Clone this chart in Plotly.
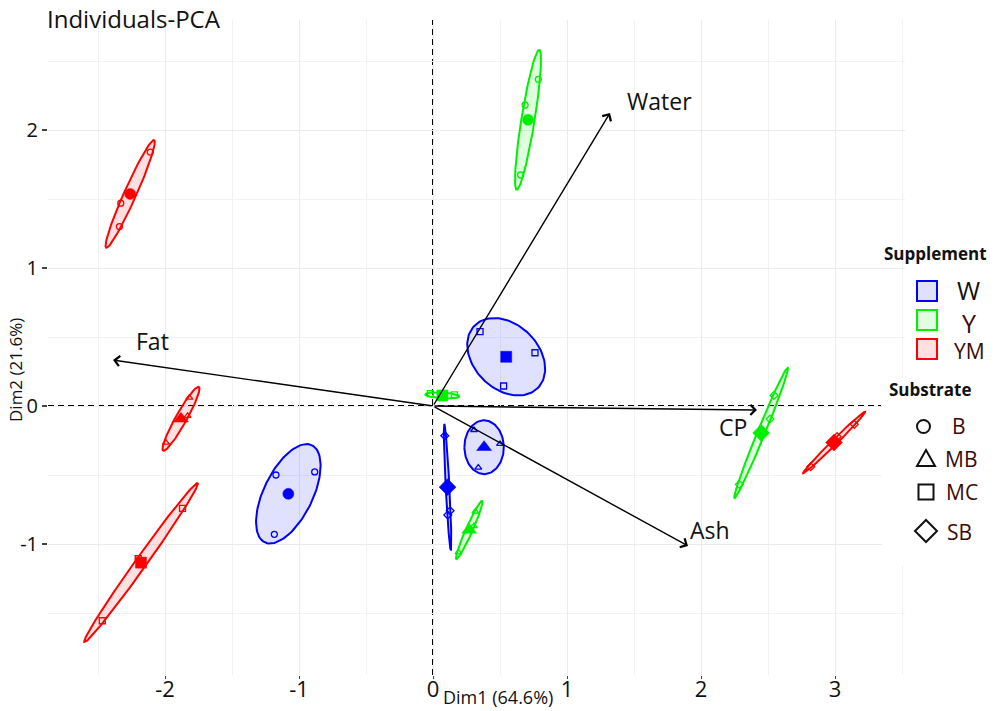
import numpy as np
import plotly.graph_objects as go

# ---------------- data ----------------
supplements = ["W", "Y", "YM"]
substrates = ["B", "MB", "MC", "SB"]

# individual scores (Dim1, Dim2), three replicates per Supplement x Substrate group
W_B_x = [-1.172, -0.883, -1.184]
W_B_y = [-0.500, -0.478, -0.930]
W_MB_x = [0.306, 0.500, 0.338]
W_MB_y = [-0.174, -0.275, -0.447]
W_MC_x = [0.351, 0.761, 0.527]
W_MC_y = [0.539, 0.386, 0.145]
W_SB_x = [0.088, 0.128, 0.110]
W_SB_y = [-0.215, -0.759, -0.790]

Y_B_x = [0.786, 0.687, 0.654]
Y_B_y = [2.367, 2.181, 1.674]
Y_MB_x = [0.316, 0.305, 0.190]
Y_MB_y = [-0.765, -0.870, -1.060]
Y_MC_x = [-0.020, 0.070, 0.160]
Y_MC_y = [0.090, 0.060, 0.080]
Y_SB_x = [2.545, 2.515, 2.286]
Y_SB_y = [0.077, -0.094, -0.568]

YM_B_x = [-2.110, -2.330, -2.340]
YM_B_y = [1.840, 1.470, 1.300]
YM_MB_x = [-1.818, -1.831, -1.993]
YM_MB_y = [0.060, -0.072, -0.266]
YM_MC_x = [-1.869, -2.200, -2.468]
YM_MC_y = [-0.742, -1.107, -1.556]
YM_SB_x = [3.144, 3.016, 2.819]
YM_SB_y = [-0.133, -0.222, -0.440]

# variable arrows (biplot)
var_names = ["Water", "Fat", "CP", "Ash"]
var_dim1 = [1.321, -2.388, 2.418, 1.903]
var_dim2 = [2.123, 0.333, -0.029, -1.014]

x_ticks = [-2, -1, 0, 1, 2, 3]
x_tick_text = ["-2", "-1", "0", "1", "2", "3"]
y_ticks = [-1, 0, 1, 2]
y_tick_text = ["-1", "0", "1", "2"]

groups = [
    ("W", "B", W_B_x, W_B_y), ("W", "MB", W_MB_x, W_MB_y),
    ("W", "MC", W_MC_x, W_MC_y), ("W", "SB", W_SB_x, W_SB_y),
    ("Y", "B", Y_B_x, Y_B_y), ("Y", "MB", Y_MB_x, Y_MB_y),
    ("Y", "MC", Y_MC_x, Y_MC_y), ("Y", "SB", Y_SB_x, Y_SB_y),
    ("YM", "B", YM_B_x, YM_B_y), ("YM", "MB", YM_MB_x, YM_MB_y),
    ("YM", "MC", YM_MC_x, YM_MC_y), ("YM", "SB", YM_SB_x, YM_SB_y),
]

# ---------------- style ----------------
FONT = "Open Sans"
W_PX, H_PX = 997, 711
L, R, T, B = 48, 92, 20, 36
line_col = {"W": "#0000FF", "Y": "#00F000", "YM": "#FF0000"}
fill_col = {"W": "rgba(0,0,255,0.12)", "Y": "rgba(0,255,0,0.12)", "YM": "rgba(255,0,0,0.12)"}
sym_open = {"B": "circle-open", "MB": "triangle-up-open", "MC": "square-open", "SB": "diamond-open"}
sym_fill = {"B": "circle", "MB": "triangle-up", "MC": "square", "SB": "diamond"}
mean_size = {"B": 11, "MB": 13, "MC": 11, "SB": 13}
label_shift = {"Water": (49, 12), "Fat": (39, 19), "CP": (-24, -17), "Ash": (22, 16)}


def px(x):
    return (x - L) / (W_PX - L - R)


def py(y):
    return (H_PX - B - y) / (H_PX - T - B)


def poly_path(pts):
    return "M " + " L ".join(f"{px(a):.5f},{py(b):.5f}" for a, b in pts) + " Z"


def conf_ellipse(xs, ys, level=0.95, n=120):
    pts = np.column_stack([xs, ys])
    c = pts.mean(axis=0)
    cov = np.cov(pts.T) / len(xs)
    t = np.sqrt(-2 * np.log(1 - level))
    vals, vecs = np.linalg.eigh(cov)
    th = np.linspace(0, 2 * np.pi, n)
    circ = np.stack([np.cos(th), np.sin(th)])
    e = c[:, None] + t * vecs @ (np.sqrt(np.maximum(vals, 0))[:, None] * circ)
    return e[0], e[1], c


fig = go.Figure()

centers = []
for sup, sub, xs, ys in groups:
    ex, ey, c = conf_ellipse(xs, ys)
    centers.append((sup, sub, c))
    fig.add_trace(go.Scatter(x=ex, y=ey, mode="lines", fill="toself",
                             fillcolor=fill_col[sup],
                             line=dict(color=line_col[sup], width=2),
                             hoverinfo="skip", showlegend=False))
for sup, sub, xs, ys in groups:
    fig.add_trace(go.Scatter(x=xs, y=ys, mode="markers", showlegend=False,
                             marker=dict(symbol=sym_open[sub], size=6, color=line_col[sup],
                                         line=dict(width=1.3, color=line_col[sup]))))
for sup, sub, c in centers:
    fig.add_trace(go.Scatter(x=[c[0]], y=[c[1]], mode="markers", showlegend=False,
                             marker=dict(symbol=sym_fill[sub], size=mean_size[sub], color=line_col[sup],
                                         line=dict(width=0.5, color=line_col[sup]))))

shapes = []
# dashed reference lines
shapes.append(dict(type="line", xref="x", yref="paper", x0=0, x1=0, y0=0, y1=1,
                   line=dict(color="black", width=2, dash="6px,4px"), layer="between"))
shapes.append(dict(type="line", xref="paper", yref="y", x0=0, x1=px(881), y0=0, y1=0,
                   line=dict(color="black", width=2, dash="6px,4px"), layer="between"))
# white patch behind the substrate legend
shapes.append(dict(type="rect", xref="paper", yref="paper", x0=px(882), x1=px(997),
                   y0=py(565), y1=py(378), fillcolor="white", line=dict(width=0), layer="above"))
# supplement legend keys
key_y = [291, 320, 349]
for sup, ky in zip(supplements, key_y):
    shapes.append(dict(type="rect", xref="paper", yref="paper", x0=px(917), x1=px(937),
                       y0=py(ky + 10), y1=py(ky - 10), fillcolor=fill_col[sup],
                       line=dict(color=line_col[sup], width=2), layer="above"))
# substrate legend keys (outlined symbols)
sym_line = dict(color="#111111", width=2)
shapes.append(dict(type="circle", xref="paper", yref="paper", x0=px(917), x1=px(930),
                   y0=py(433), y1=py(420), line=sym_line, layer="above"))
shapes.append(dict(type="path", xref="paper", yref="paper", layer="above", line=sym_line,
                   path=poly_path([(917, 466), (935, 466), (926, 450)])))
shapes.append(dict(type="rect", xref="paper", yref="paper", x0=px(918.5), x1=px(933.5),
                   y0=py(499.5), y1=py(484.5), line=sym_line, layer="above"))
shapes.append(dict(type="path", xref="paper", yref="paper", layer="above", line=sym_line,
                   path=poly_path([(915, 531), (926, 520), (937, 531), (926, 542)])))

annotations = []
for name, vx, vy in zip(var_names, var_dim1, var_dim2):
    annotations.append(dict(x=vx, y=vy, ax=0, ay=0, xref="x", yref="y", axref="x", ayref="y",
                            showarrow=True, arrowhead=4, arrowsize=1.4, arrowwidth=1.4,
                            arrowcolor="black", text=""))
    dx, dy = label_shift[name]
    annotations.append(dict(x=vx, y=vy, xref="x", yref="y", text=name, showarrow=False,
                            xshift=dx, yshift=dy, font=dict(size=23, color="#111111", family=FONT)))

annotations += [
    dict(x=px(45), y=py(19), xref="paper", yref="paper", text="Individuals-PCA", showarrow=False,
         xanchor="left", yanchor="middle", font=dict(size=24, color="#111111", family=FONT)),
    dict(x=px(441), y=py(697), xref="paper", yref="paper", text="Dim1 (64.6%)", showarrow=False,
         xanchor="left", yanchor="middle", font=dict(size=18, color="#111111", family=FONT)),
    dict(x=px(15), y=py(370), xref="paper", yref="paper", text="Dim2 (21.6%)", showarrow=False,
         textangle=-90, xanchor="center", yanchor="middle", font=dict(size=17, color="#111111", family=FONT)),
    dict(x=px(935), y=py(253), xref="paper", yref="paper", text="<b>Supplement</b>", showarrow=False,
         xanchor="center", yanchor="middle", font=dict(size=17, color="#111111", family=FONT)),
    dict(x=px(931), y=py(389), xref="paper", yref="paper", text="<b>Substrate</b>", showarrow=False,
         xanchor="center", yanchor="middle", font=dict(size=17, color="#111111", family=FONT)),
]
sup_text_x = [968, 969, 969]
sup_text_y = [290, 323, 351]
sup_text_size = [25, 25, 21]
sup_text_col = ["#111111", "#3a0a0a", "#3a0a0a"]
for s, tx, ty, ts, tc in zip(supplements, sup_text_x, sup_text_y, sup_text_size, sup_text_col):
    annotations.append(dict(x=px(tx), y=py(ty), xref="paper", yref="paper", text=s, showarrow=False,
                            xanchor="center", yanchor="middle", font=dict(size=ts, color=tc, family=FONT)))
sub_text_x = [959, 961, 962, 959]
sub_text_y = [426, 459, 492, 532]
for s, tx, ty in zip(substrates, sub_text_x, sub_text_y):
    annotations.append(dict(x=px(tx), y=py(ty), xref="paper", yref="paper", text=s, showarrow=False,
                            xanchor="center", yanchor="middle", font=dict(size=21, color="#3a0a0a", family=FONT)))

x0 = (L - 433) / 134
x1 = (W_PX - R - 433) / 134
y0 = (406 - (H_PX - B)) / 138
y1 = (406 - T) / 138

fig.update_layout(
    width=W_PX, height=H_PX,
    margin=dict(l=L, r=R, t=T, b=B, autoexpand=False),
    paper_bgcolor="white", plot_bgcolor="white",
    font=dict(family=FONT, color="#111111"),
    showlegend=False,
    xaxis=dict(range=[x0, x1], tickvals=x_ticks, ticktext=x_tick_text, showgrid=True,
               gridcolor="#EBEBEB", gridwidth=1, zeroline=False, showline=False, automargin=False,
               ticks="outside", ticklen=3, tickcolor="#444444", ticklabelstandoff=-8,
               tickfont=dict(size=22, color="#111111", family=FONT),
               minor=dict(dtick=0.5, tick0=0, showgrid=True, gridcolor="#F2F2F2", gridwidth=1),
               fixedrange=True),
    yaxis=dict(range=[y0, y1], tickvals=y_ticks, ticktext=y_tick_text, showgrid=True,
               gridcolor="#EBEBEB", gridwidth=1, zeroline=False, showline=False, automargin=False,
               ticks="outside", ticklen=5, tickwidth=1.5, tickcolor="#444444",
               tickfont=dict(size=20, color="#111111", family=FONT),
               minor=dict(dtick=0.5, tick0=0, showgrid=True, gridcolor="#F2F2F2", gridwidth=1),
               fixedrange=True),
    shapes=shapes, annotations=annotations,
)

fig.write_html("out.html", config={"displayModeBar": False})
with open("out.html", "r", encoding="utf-8") as f:
    html = f.read()
html = html.replace("<body>", '<body style="margin:0;padding:0;overflow:hidden">', 1)
with open("out.html", "w", encoding="utf-8") as f:
    f.write(html)
